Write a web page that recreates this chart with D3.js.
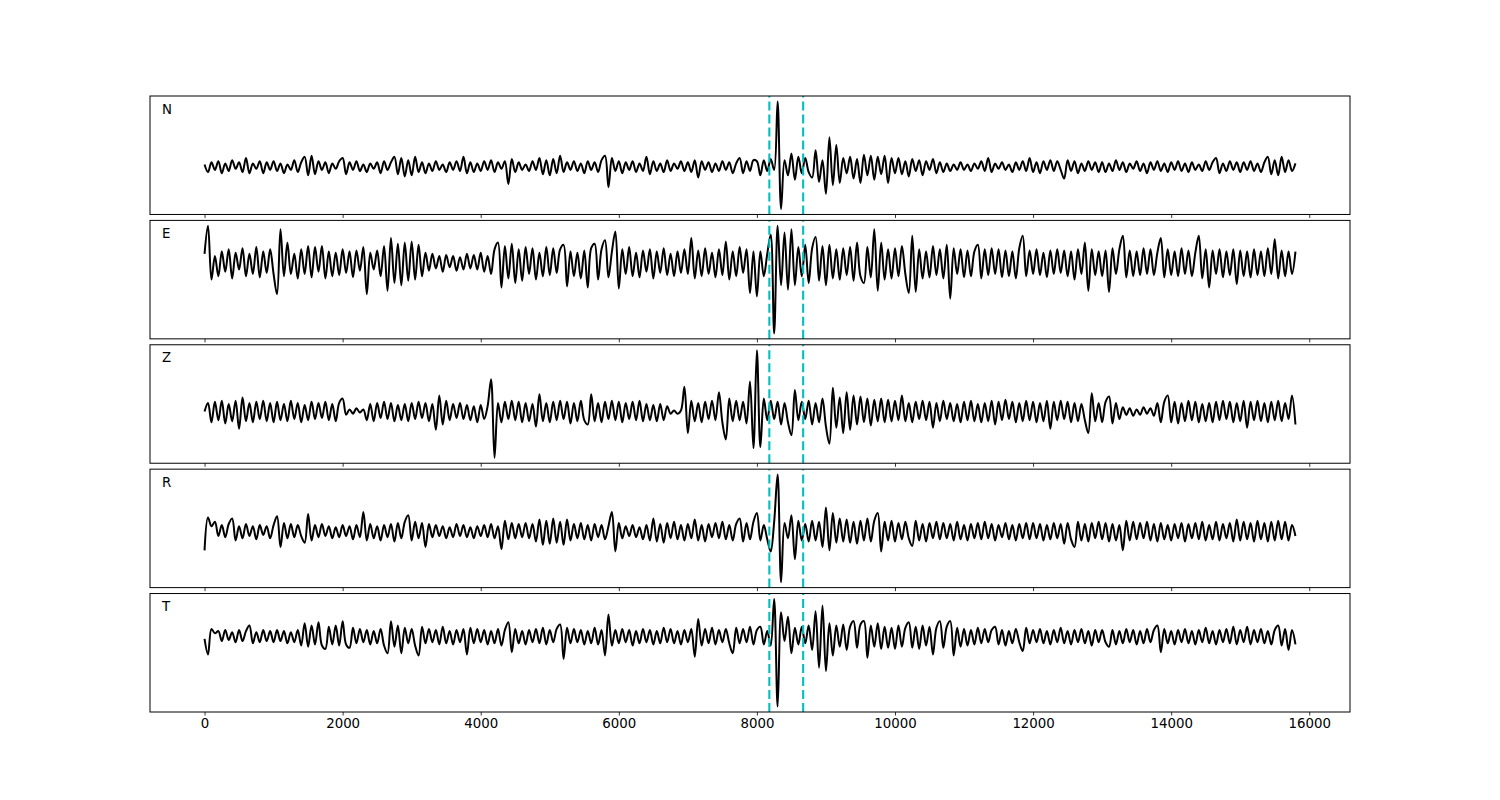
<!DOCTYPE html>
<html>
<head>
<meta charset="utf-8">
<script src="https://cdn.jsdelivr.net/npm/d3@7"></script>
<style>
  html, body { margin: 0; padding: 0; background: #ffffff; }
  svg { display: block; }
</style>
</head>
<body>
<div id="chart"></div>
<script>
// ---------------- data ----------------
const components = ["N", "E", "Z", "R", "T"];
const sampleInterval = 50;           // samples every 50 units, 0 .. 15800
const pickTimes = [8180, 8670];      // dashed vertical markers
const xTickValues = [0, 2000, 4000, 6000, 8000, 10000, 12000, 14000, 16000];
const xTickLabels = ["0", "2000", "4000", "6000", "8000", "10000", "12000", "14000", "16000"];

const traceN = [
  2,-5,4,-3,5,-6,3,-4,6,-2,4,-5,8,-6,3,-2,5,-6,4,-3,
  5,-4,3,-6,2,-3,6,-5,4,9,-8,10,-7,5,-3,4,-6,3,-2,5,
  8,-7,4,-3,5,-4,2,-5,3,-2,4,-6,5,-3,4,9,-7,8,-9,6,
  -8,9,-5,4,-6,3,-4,5,-3,2,-5,4,-3,5,-4,9,-6,4,-5,3,
  -4,5,-3,6,-5,4,-2,5,-16,7,-5,4,-3,2,-4,5,-3,8,-7,6,
  -8,7,-6,10,-5,4,-3,5,-4,3,-6,5,-3,4,-5,6,10,-19,8,-4,
  5,-6,4,-3,5,-5,3,-4,9,-7,5,-4,3,-5,6,-4,3,-2,5,-4,
  4,-5,6,-10,5,-3,4,-5,3,-4,5,-3,4,-6,3,8,-6,5,-4,6,
  5,-8,6,-4,7,-3,60,-39,6,-8,12,-12,9,-6,8,-5,-10,15,-14,6,
  -25,27,-17,20,-15,8,-6,9,-11,7,-15,11,-8,10,-12,9,-7,10,-15,8,
  -6,8,-7,5,-9,7,-4,6,-8,5,-3,7,-6,4,-5,3,-4,2,-3,4,
  -3,2,-4,3,-2,5,-4,8,-5,3,-2,4,-3,2,-5,4,-3,5,-4,8,
  -5,4,-6,5,-3,6,-4,5,-3,-11,6,-4,5,-6,3,-4,5,-3,4,-5,
  4,-5,3,-4,6,-3,4,-5,3,-2,5,-4,3,-6,4,-3,5,-4,3,-5,
  4,-3,5,-4,3,-5,4,-3,2,-4,5,-3,4,8,-6,3,-4,5,-3,4,
  -5,4,-3,5,-4,3,-5,4,9,-7,6,-8,9,-5,6,-4,3
];

const traceE = [
  8,33,-15,6,-12,10,-8,12,-14,9,-6,13,-12,8,-10,14,-13,10,-9,12,
  -10,-28,30,-12,18,-10,8,-14,12,-10,15,-13,14,-8,15,-14,10,-12,9,-11,
  12,-9,10,-13,11,-7,14,-28,9,-6,11,-12,15,-25,22,-18,17,-20,18,-16,
  19,-15,16,-12,9,-7,8,-5,6,-8,7,-4,6,-7,5,-6,8,-5,7,-6,
  9,-8,6,-10,12,18,-22,15,-14,17,-18,12,-16,14,-10,13,-15,9,-12,14,
  -11,13,-9,12,16,-21,10,-12,9,-14,11,-22,13,17,-15,12,20,-13,10,28,
  -23,12,-10,14,-12,9,-13,11,-8,12,-14,10,-9,13,-11,8,-12,10,-9,12,
  -10,22,-14,11,-12,13,-10,9,-13,12,-11,19,-15,10,-12,14,-9,12,-27,10,
  -30,10,-12,8,25,-63,33,-20,27,-24,30,-20,14,-12,16,-18,13,23,-16,15,
  -20,16,-14,12,-15,13,-11,14,-16,18,-12,-18,14,-13,30,-25,18,-15,12,-14,
  13,-12,15,-10,-27,24,-26,12,-14,10,-13,15,-11,12,-14,16,-32,13,-10,12,
  -13,11,-12,10,16,-14,12,-11,13,-10,12,-13,11,-12,10,-14,13,24,-12,11,
  -10,12,-11,9,-13,11,-10,12,-9,11,-12,10,-15,12,-10,18,-25,12,-11,10,
  -12,11,-26,13,-10,12,24,-13,11,-12,10,-11,13,-10,12,-11,9,22,-13,12,
  -11,10,-12,13,-10,11,-12,9,24,-14,12,-22,11,-10,12,-13,10,-11,12,-19,
  11,-12,10,-13,12,-11,10,-12,13,-10,21,-14,11,-12,10,-10,10
];

const traceZ = [
  0,8,-10,9,-8,10,-11,7,-9,10,-16,13,-9,8,-10,9,-7,10,-9,8,
  -10,9,-8,7,-9,10,-7,8,-10,6,-8,9,-7,8,-6,9,-8,7,-9,8,
  12,-3,2,-2,3,-1,2,-8,7,-9,8,-6,9,-7,8,-9,6,-8,7,-9,
  8,-7,9,-6,8,-9,7,-17,15,-12,10,-8,7,-6,8,-7,6,-8,5,-10,
  6,-7,5,30,-43,8,-10,9,-7,10,-8,9,-10,8,-9,7,-14,16,-9,8,
  -10,9,-8,10,-7,9,-11,8,-9,10,-8,-12,16,-9,8,-10,9,-7,10,-8,
  9,-10,8,-7,9,-8,10,-9,7,-8,6,-9,7,-8,5,-2,1,-2,1,23,
  -20,10,-9,8,-10,9,-7,10,-8,18,-10,-26,12,-9,10,-8,9,-11,28,-34,
  57,-33,12,-8,10,-7,9,-12,8,-10,-22,20,-8,9,-7,10,-12,8,-10,12,
  -14,-30,22,-15,13,-20,18,-17,15,-12,14,-10,12,-13,11,-9,12,-10,11,-9,
  10,-8,15,-9,8,-10,9,-7,10,-8,9,-15,8,-9,10,-7,8,-9,7,-10,
  9,-8,10,-9,7,-10,8,-9,10,-12,9,-8,11,-7,9,-10,8,-9,10,-8,
  9,-10,8,-9,10,-16,9,-8,10,-7,9,-10,8,-9,7,-8,-20,17,-9,8,
  -10,9,14,-11,8,-7,4,-3,3,-4,2,-3,4,-2,3,-4,8,-10,9,15,
  -10,9,-11,8,-9,10,-8,9,-10,7,-9,8,-10,9,-8,10,-7,9,-10,8,
  -9,10,-15,9,-8,10,-9,8,-10,9,-8,10,-9,8,-7,15,-12
];

const traceR = [
  -17,13,5,9,-4,6,-5,7,12,-8,5,-6,7,-4,5,-7,6,-3,5,-6,
  6,14,-14,8,-6,7,-5,6,-4,-10,16,-8,6,-5,7,-4,5,-6,4,-5,
  6,-4,5,-7,6,-5,18,-8,7,-6,5,-8,6,-5,7,-9,8,-6,9,15,
  -8,9,-6,8,-14,7,-5,6,-4,5,-6,4,-5,7,-4,6,-5,4,-6,5,
  -4,6,-5,7,-6,5,-16,10,-7,8,-6,7,-5,8,-6,7,-9,11,-12,10,
  -11,12,-10,9,-12,11,-8,7,-6,8,-7,6,-8,7,-5,6,-7,5,18,-18,
  8,-6,5,-4,6,-5,4,-7,6,-8,12,-9,7,-10,8,-6,9,-7,6,-8,
  7,-6,11,-8,6,-9,7,-5,8,-6,9,-7,6,-8,7,12,-9,8,-7,9,
  17,-8,6,-7,-18,9,52,-46,8,-6,15,-25,10,-8,7,-9,10,-8,9,-14,
  22,-17,17,-10,12,-9,11,-10,9,-11,10,-8,12,-9,10,17,-18,9,-8,10,
  -9,8,-7,9,-6,-13,10,-8,7,-9,8,-6,9,-7,8,-6,7,-8,9,-7,
  6,-8,7,-6,8,-7,9,-6,7,-8,6,-5,8,-7,6,-8,7,-6,8,-7,
  8,-6,7,-8,6,-7,8,-6,7,-11,8,-7,-14,9,-8,7,-9,8,-6,9,
  -7,8,-9,7,-8,6,-17,10,-8,9,-7,8,-6,9,-8,7,-9,8,-7,6,
  -8,7,-6,8,-9,7,-6,8,-7,9,-8,6,-7,9,-8,7,-6,8,-9,11,
  -8,9,-7,8,-9,10,-7,8,-9,9,-8,10,-7,9,-8,6,-4
];

const traceT = [
  -2,-16,7,3,5,-4,6,-3,4,-5,6,-4,5,10,-6,4,-5,6,-4,5,
  -5,6,-4,5,-6,4,-5,6,-8,12,-9,10,-7,13,-8,-11,9,-7,10,-8,
  14,-7,-10,8,-6,7,-5,6,-7,5,-6,7,-8,-15,14,-9,10,-15,8,-6,
  7,-8,-17,9,-6,7,-5,6,-7,9,-6,5,-7,6,-5,7,-16,8,-6,7,
  -5,6,-7,5,-6,7,-8,6,13,-14,7,-6,5,-7,6,-5,7,-6,8,-7,
  6,-5,7,11,-20,8,-6,7,-5,6,-7,5,-6,8,-7,6,-17,20,-8,6,
  -6,7,-5,6,-8,5,-6,7,-5,6,-7,5,-6,8,-5,7,-6,5,-7,6,
  -5,7,-18,16,-8,7,-6,8,-7,6,-5,7,-6,-15,8,-6,7,-5,9,-7,
  6,9,-7,5,-8,34,-63,22,-4,18,-15,8,-7,9,-6,10,-12,23,-28,28,
  -31,12,-17,10,-9,11,-12,9,14,-10,11,14,-19,10,-9,12,-11,9,-10,8,
  -11,10,-9,8,13,-10,9,-11,10,-8,9,-16,8,14,-10,9,14,-17,8,-9,
  7,-8,6,-7,8,-6,7,-5,6,9,-7,6,-8,5,-6,7,-5,-13,8,-6,
  6,-5,7,-6,5,-7,6,-5,8,-6,5,-7,6,-5,7,-6,5,-8,6,-5,
  6,-5,-9,6,-7,5,-6,7,-5,6,-7,5,-6,7,-5,6,10,-14,7,-6,
  5,-7,6,-5,7,-6,5,-7,6,-5,8,-6,5,-7,6,-5,7,-6,9,-7,
  6,-5,9,-7,6,-5,7,-6,5,-7,6,10,-8,7,-12,6,-7
];

const traces = [traceN, traceE, traceZ, traceR, traceT];

// ---------------- layout ----------------
const W = 1500, H = 800;
const left = 150, right = 1350;
const figTop = 96, figBottom = 712;
const nPanels = components.length;
const hspace = 0.05;
const panelH = (figBottom - figTop) / (nPanels + (nPanels - 1) * hspace);
const gap = panelH * hspace;

const svg = d3.select("#chart").append("svg")
  .attr("width", W).attr("height", H)
  .style("font-family", "'DejaVu Sans', sans-serif");

svg.append("rect").attr("width", W).attr("height", H).attr("fill", "#ffffff");

const x = d3.scaleLinear().domain([-790, 16590]).range([left, right]);

components.forEach((comp, i) => {
  const data = traces[i].map((v, k) => ({ t: k * sampleInterval, v }));
  const top = figTop + i * (panelH + gap);
  const bottom = top + panelH;
  const [mn, mx] = d3.extent(data, d => d.v);
  const pad = (mx - mn) * 0.05;
  const y = d3.scaleLinear().domain([mn - pad, mx + pad]).range([bottom, top]);

  const g = svg.append("g");

  // waveform
  const line = d3.line()
    .x(d => x(d.t))
    .y(d => y(d.v))
    .curve(d3.curveCatmullRom.alpha(0.5));
  g.append("path")
    .datum(data)
    .attr("d", line)
    .attr("fill", "none")
    .attr("stroke", "#000000")
    .attr("stroke-width", 2)
    .attr("stroke-linejoin", "round");

  // pick markers
  pickTimes.forEach(p => {
    g.append("line")
      .attr("x1", x(p)).attr("x2", x(p))
      .attr("y1", bottom).attr("y2", top)
      .attr("stroke", "#00BFBF")
      .attr("stroke-width", 2.1)
      .attr("stroke-dasharray", "9,4");
  });

  // frame
  g.append("rect")
    .attr("x", left).attr("y", top)
    .attr("width", right - left).attr("height", panelH)
    .attr("fill", "none").attr("stroke", "#000000").attr("stroke-width", 1);

  // x axis ticks (labels only on the bottom panel)
  const axis = d3.axisBottom(x)
    .tickValues(xTickValues)
    .tickSizeInner(3.5)
    .tickSizeOuter(0)
    .tickPadding(3.5)
    .tickFormat((d, k) => i === nPanels - 1 ? xTickLabels[k] : "");
  const ax = g.append("g")
    .attr("transform", `translate(0,${bottom})`)
    .call(axis);
  ax.select(".domain").remove();
  ax.selectAll(".tick line").attr("stroke", "#000").attr("stroke-width", 0.8);
  ax.selectAll(".tick text")
    .attr("fill", "#000")
    .style("font-family", "'DejaVu Sans', sans-serif")
    .style("font-size", "13.33px");

  // component label
  g.append("text")
    .attr("x", left + 12)
    .attr("y", top + 17.5)
    .attr("fill", "#000")
    .style("font-size", "13.33px")
    .text(comp);
});
</script>
</body>
</html>
